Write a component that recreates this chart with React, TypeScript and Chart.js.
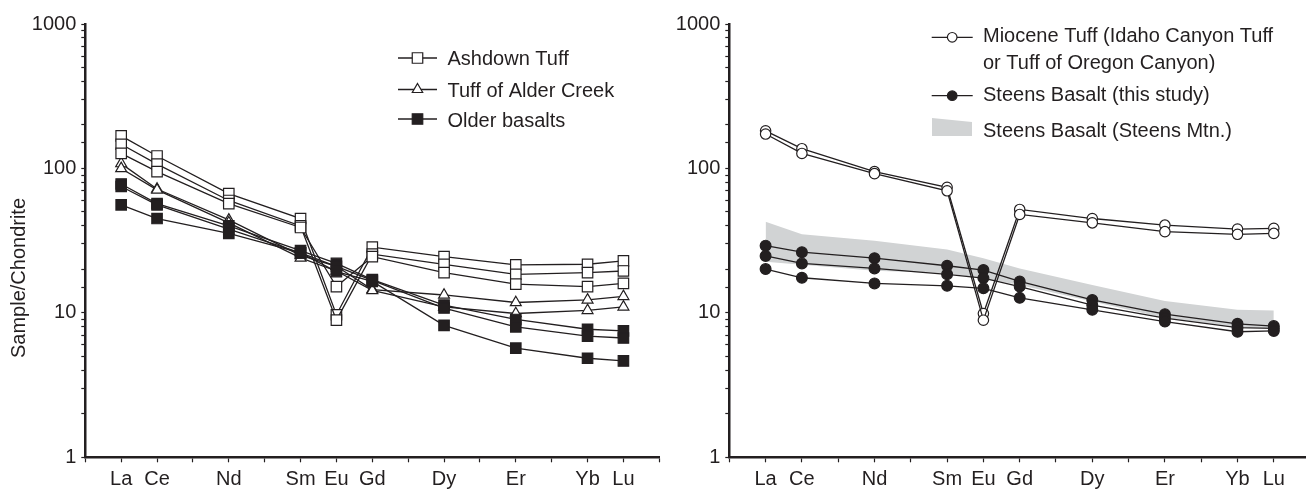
import React, { useEffect, useRef } from 'react';
import { Chart, registerables } from 'chart.js';

Chart.register(...registerables);

// ---------- data ----------
const ELEMENTS = ['La', 'Ce', 'Pr', 'Nd', 'Pm', 'Sm', 'Eu', 'Gd', 'Tb', 'Dy', 'Ho', 'Er', 'Tm', 'Yb', 'Lu'];
const TICK_LABELS = ['La', 'Ce', '', 'Nd', '', 'Sm', 'Eu', 'Gd', '', 'Dy', '', 'Er', '', 'Yb', 'Lu'];
const PLOTTED = ['La', 'Ce', 'Nd', 'Sm', 'Eu', 'Gd', 'Dy', 'Er', 'Yb', 'Lu'];
const Y_TICK_LABELS = [1, 10, 100, 1000];

// left panel
const ASHDOWN_1 = [168, 122, 67, 45, 9.7, 28.5, 24.5, 21.5, 21.7, 22.9];
const ASHDOWN_2 = [147, 107, 60, 40, 8.9, 25.5, 21.7, 18.5, 19.0, 19.5];
const ASHDOWN_3 = [127, 95, 57, 39, 15.2, 24.5, 19.0, 15.8, 15.2, 16.0];
const ALDER_1 = [108, 72, 44, 25, 21, 14.5, 13.3, 11.8, 12.3, 13.0];
const ALDER_2 = [100, 71, 42, 24, 19.5, 14.3, 11.0, 9.9, 10.4, 11.0];
const OLDER_1 = [78, 57, 40, 27, 22, 17, 11.3, 9.0, 7.7, 7.5];
const OLDER_2 = [75, 56, 38, 26, 21, 16.8, 10.8, 8.0, 6.9, 6.7];
const OLDER_3 = [56, 45, 35.5, 26, 19.3, 16.5, 8.2, 5.7, 4.85, 4.65];

// right panel
const MIOCENE_1 = [182, 137, 95, 74, 9.9, 52, 45, 40.5, 38, 38.5];
const MIOCENE_2 = [173, 127, 92, 70, 8.9, 48, 42, 36.5, 35, 35.5];
const STEENS_1 = [29.2, 26.3, 23.9, 21.2, 19.8, 16.5, 12.3, 9.8, 8.4, 8.1];
const STEENS_2 = [24.8, 22.0, 20.3, 18.5, 17.4, 15.2, 11.3, 9.2, 7.9, 7.8];
const STEENS_3 = [20.1, 17.5, 16.0, 15.4, 14.8, 12.7, 10.5, 8.7, 7.4, 7.5];
const BAND_UPPER = [42.8, 35, 31.6, 27.5, 23.9, 20.3, 15.6, 12.1, 10.5, 10.4];
const BAND_LOWER = [22.6, 21.5, 19.6, 18.8, 17.3, 15.6, 12.0, 9.2, 8.0, 7.8];

const LEFT_LEGEND = ['Ashdown Tuff', 'Tuff of Alder Creek', 'Older basalts'];
const RIGHT_LEGEND = [
  ['Miocene Tuff (Idaho Canyon Tuff', 'or Tuff of Oregon Canyon)'],
  ['Steens Basalt (this study)'],
  ['Steens Basalt (Steens Mtn.)'],
];
const Y_TITLE = 'Sample/Chondrite';

// ---------- style ----------
const DARK = '#231f20';
const GRAY = '#d1d3d4';
const FONT = "'Liberation Sans', Arial, Helvetica, sans-serif";
const FONT_SIZE = 20;
const H = 489;

const pts = (values: number[]) =>
  values.map((v, i) => ({ x: ELEMENTS.indexOf(PLOTTED[i]), y: v }));

// lower "order" is drawn on top
function series(values: number[], style: string, filled: boolean, radius: number, order: number) {
  return {
    data: pts(values),
    order,
    borderColor: DARK,
    borderWidth: 1.3,
    pointStyle: style,
    pointRadius: radius,
    pointBorderWidth: 1.2,
    pointBorderColor: DARK,
    pointBackgroundColor: filled ? DARK : '#ffffff',
    tension: 0,
    fill: false,
  };
}

function scales(yAxisWidth: number) {
  return {
    x: {
      type: 'linear',
      min: -1,
      max: 15,
      position: 'bottom',
      afterFit: (s: any) => {
        s.height = H - 457.3;
      },
      border: { display: true, color: DARK, width: 2.5 },
      grid: { display: true, drawOnChartArea: false, drawTicks: true, tickLength: 5, tickColor: DARK, tickWidth: 1.2 },
      ticks: {
        stepSize: 1,
        autoSkip: false,
        maxRotation: 0,
        padding: 5,
        color: DARK,
        font: { family: FONT, size: FONT_SIZE },
        callback: (v: number) => TICK_LABELS[v] ?? '',
      },
    },
    y: {
      type: 'logarithmic',
      min: 1,
      max: 1000,
      position: 'left',
      afterFit: (s: any) => {
        s.width = yAxisWidth;
      },
      border: { display: true, color: DARK, width: 2.5 },
      grid: { display: true, drawOnChartArea: false, drawTicks: true, tickLength: 4, tickColor: DARK, tickWidth: 1.2 },
      ticks: {
        autoSkip: false,
        padding: 5,
        color: DARK,
        font: { family: FONT, size: FONT_SIZE },
        callback: (v: number) => {
          const l = Math.log10(v);
          return Math.abs(l - Math.round(l)) < 1e-9 && Y_TICK_LABELS.includes(Math.round(v)) ? String(Math.round(v)) : '';
        },
      },
    },
  };
}

function drawMarker(ctx: CanvasRenderingContext2D, kind: string, x: number, y: number) {
  ctx.save();
  ctx.lineWidth = 1.2;
  ctx.strokeStyle = DARK;
  ctx.beginPath();
  if (kind === 'rect' || kind === 'rectFilled') {
    const s = 10.5;
    ctx.rect(x - s / 2, y - s / 2, s, s);
    ctx.fillStyle = kind === 'rectFilled' ? DARK : '#fff';
  } else if (kind === 'triangle') {
    const r = 6;
    ctx.moveTo(x, y - r);
    ctx.lineTo(x + r * 0.866, y + r * 0.5);
    ctx.lineTo(x - r * 0.866, y + r * 0.5);
    ctx.closePath();
    ctx.fillStyle = '#fff';
  } else {
    ctx.arc(x, y, 4.8, 0, Math.PI * 2);
    ctx.fillStyle = kind === 'circleFilled' ? DARK : '#fff';
  }
  ctx.fill();
  ctx.stroke();
  ctx.restore();
}

function legendPlugin(items: { kind: string; lineY: number; x1: number; x2: number; textX: number; texts: string[]; baselines: number[] }[]) {
  return {
    id: 'customLegend',
    afterDraw(chart: any) {
      const ctx: CanvasRenderingContext2D = chart.ctx;
      ctx.save();
      for (const it of items) {
        if (it.kind === 'band') {
          ctx.fillStyle = GRAY;
          ctx.beginPath();
          ctx.moveTo(it.x1, it.lineY - 10);
          ctx.lineTo(it.x2, it.lineY - 6);
          ctx.lineTo(it.x2, it.lineY + 8);
          ctx.lineTo(it.x1, it.lineY + 8);
          ctx.closePath();
          ctx.fill();
        } else {
          ctx.strokeStyle = DARK;
          ctx.lineWidth = 1.3;
          ctx.beginPath();
          ctx.moveTo(it.x1, it.lineY);
          ctx.lineTo(it.x2, it.lineY);
          ctx.stroke();
          drawMarker(ctx, it.kind, (it.x1 + it.x2) / 2, it.lineY);
        }
        ctx.fillStyle = DARK;
        ctx.font = `${FONT_SIZE}px ${FONT}`;
        ctx.textAlign = 'left';
        ctx.textBaseline = 'alphabetic';
        it.texts.forEach((t, i) => ctx.fillText(t, it.textX, it.baselines[i]));
      }
      ctx.restore();
    },
  };
}

const yTitlePlugin = {
  id: 'yTitle',
  afterDraw(chart: any) {
    const ctx: CanvasRenderingContext2D = chart.ctx;
    ctx.save();
    ctx.translate(19, 278);
    ctx.rotate(-Math.PI / 2);
    ctx.fillStyle = DARK;
    ctx.font = `${FONT_SIZE}px ${FONT}`;
    ctx.textAlign = 'center';
    ctx.textBaseline = 'middle';
    ctx.fillText(Y_TITLE, 0, 0);
    ctx.restore();
  },
};

const baseOptions = {
  animation: false,
  responsive: false,
  events: [],
  plugins: {
    legend: { display: false },
    tooltip: { enabled: false },
    filler: { drawTime: 'beforeDatasetsDraw' },
  },
};

export default function App() {
  const leftRef = useRef<HTMLCanvasElement>(null);
  const rightRef = useRef<HTMLCanvasElement>(null);

  useEffect(() => {
    const left = new Chart(leftRef.current as HTMLCanvasElement, {
      type: 'line',
      data: {
        datasets: [
          series(ALDER_1, 'triangle', false, 6.3, 8),
          series(ALDER_2, 'triangle', false, 6.3, 7),
          series(ASHDOWN_1, 'rect', false, 7.4, 6),
          series(ASHDOWN_2, 'rect', false, 7.4, 5),
          series(ASHDOWN_3, 'rect', false, 7.4, 4),
          series(OLDER_1, 'rect', true, 7.4, 3),
          series(OLDER_2, 'rect', true, 7.4, 2),
          series(OLDER_3, 'rect', true, 7.4, 1),
        ] as any,
      },
      options: {
        ...baseOptions,
        layout: { padding: { top: 24, right: 690 - 659.3, left: 0, bottom: 0 } },
        scales: scales(85.3) as any,
      } as any,
      plugins: [
        legendPlugin([
          { kind: 'rect', lineY: 58, x1: 398, x2: 437, textX: 447.5, texts: [LEFT_LEGEND[0]], baselines: [65] },
          { kind: 'triangle', lineY: 89.5, x1: 398, x2: 437, textX: 447.5, texts: [LEFT_LEGEND[1]], baselines: [97] },
          { kind: 'rectFilled', lineY: 119, x1: 398, x2: 437, textX: 447.5, texts: [LEFT_LEGEND[2]], baselines: [126.5] },
        ]),
        yTitlePlugin,
      ],
    });

    const OFF = 640;
    const right = new Chart(rightRef.current as HTMLCanvasElement, {
      type: 'line',
      data: {
        datasets: [
          {
            data: pts(BAND_UPPER),
            order: 20,
            borderColor: 'rgba(0,0,0,0)',
            backgroundColor: GRAY,
            pointRadius: 0,
            fill: '+1',
            tension: 0,
          },
          {
            data: pts(BAND_LOWER),
            order: 21,
            borderColor: 'rgba(0,0,0,0)',
            pointRadius: 0,
            fill: false,
            tension: 0,
          },
          series(MIOCENE_1, 'circle', false, 5.2, 5),
          series(MIOCENE_2, 'circle', false, 5.2, 4),
          series(STEENS_1, 'circle', true, 5.4, 3),
          series(STEENS_2, 'circle', true, 5.4, 2),
          series(STEENS_3, 'circle', true, 5.4, 1),
        ] as any,
      },
      options: {
        ...baseOptions,
        layout: { padding: { top: 24, right: 680 - (1310.1 - OFF), left: 0, bottom: 0 } },
        scales: scales(729.3 - OFF) as any,
      } as any,
      plugins: [
        legendPlugin([
          { kind: 'circle', lineY: 37.3, x1: 931.7 - OFF, x2: 972.7 - OFF, textX: 983 - OFF, texts: RIGHT_LEGEND[0], baselines: [41.5, 68.5] },
          { kind: 'circleFilled', lineY: 95.7, x1: 931.7 - OFF, x2: 972.7 - OFF, textX: 983 - OFF, texts: RIGHT_LEGEND[1], baselines: [101] },
          { kind: 'band', lineY: 128, x1: 932 - OFF, x2: 972 - OFF, textX: 983 - OFF, texts: RIGHT_LEGEND[2], baselines: [136.5] },
        ]),
      ],
    });

    return () => {
      left.destroy();
      right.destroy();
    };
  }, []);

  return (
    <div style={{ position: 'absolute', left: 0, top: 0, width: 1306, height: H, overflow: 'hidden', background: '#ffffff' }}>
      <canvas ref={leftRef} width={690} height={H} style={{ position: 'absolute', left: 0, top: 0 }} />
      <canvas ref={rightRef} width={680} height={H} style={{ position: 'absolute', left: 640, top: 0 }} />
    </div>
  );
}
